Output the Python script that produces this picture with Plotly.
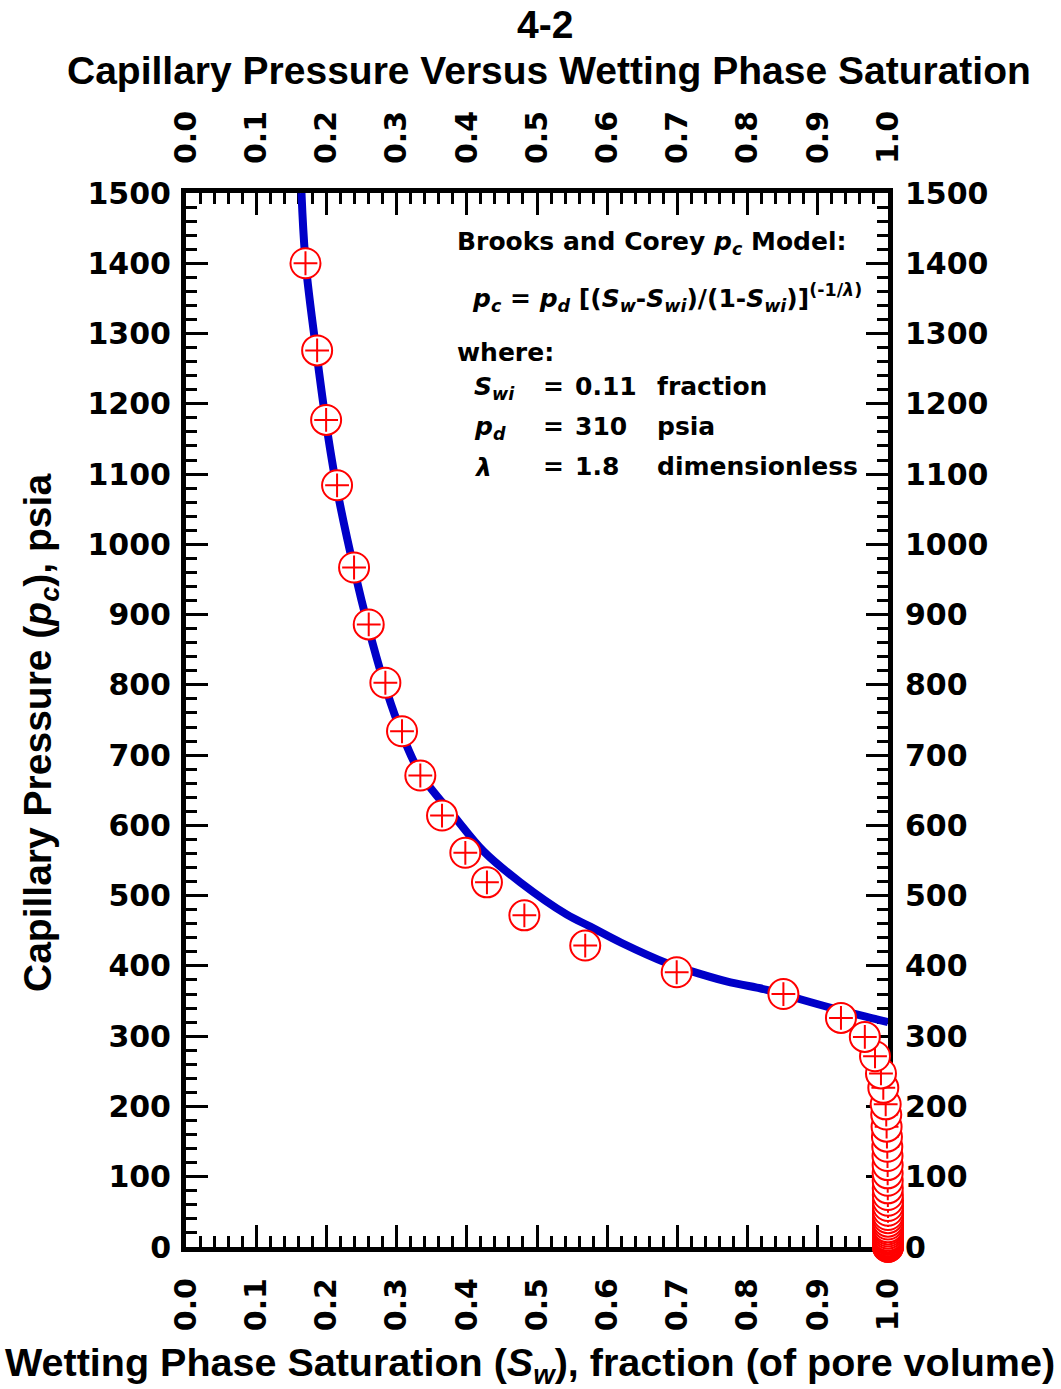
import plotly.graph_objects as go

# Measured capillary pressure points (ascending pc so the upper points sit on top)
meas_sw = [1.0, 1.0, 1.0, 1.0, 1.0, 1.0, 1.0, 1.0, 1.0, 1.0, 1.0, 1.0, 1.0, 1.0,
           1.0, 1.0, 1.0, 1.0, 1.0, 1.0, 1.0, 1.0, 1.0, 1.0, 1.0, 0.9998, 0.9997,
           0.9996, 0.9995, 0.9995, 0.9993, 0.999, 0.9985, 0.998, 0.9975, 0.9967,
           0.9933, 0.990, 0.9815, 0.967, 0.933, 0.851, 0.699, 0.5687, 0.482,
           0.4287, 0.3979, 0.3647, 0.3338, 0.3077, 0.284, 0.2603, 0.2394, 0.2152,
           0.1996, 0.1868, 0.1702]
meas_pc = [0, 0.5, 1, 1.5, 2, 3, 4, 5, 6.5, 8, 10, 12, 14, 16, 19, 22, 25, 28,
           32, 36, 41, 45.5, 51.6, 58.3, 65.8, 74, 83.5, 94.3, 104.8, 116.6,
           129.5, 142.7, 157, 171.2, 188.5, 203, 226.5, 247, 271.5, 299, 326, 360,
           391, 429, 472, 519, 561, 614, 671, 734, 803, 886, 967, 1084, 1177,
           1276, 1400]

# Brooks and Corey model curve
model_sw = [0.1645, 0.1705, 0.1868, 0.1996, 0.2152, 0.2391, 0.2603, 0.280, 0.302,
            0.333, 0.3836, 0.424, 0.4762, 0.5426, 0.5758, 0.620, 0.685, 0.7181,
            0.770, 0.8273, 0.856, 0.920, 0.984, 1.0]
model_pc = [1500, 1400, 1266, 1172, 1078, 966, 880, 810, 745, 675, 611, 563, 519,
            473, 456, 433, 404, 393, 378, 366, 358, 340, 324, 320]

x_ticks = [0.0, 0.1, 0.2, 0.3, 0.4, 0.5, 0.6, 0.7, 0.8, 0.9, 1.0]
x_labels = ["0.0", "0.1", "0.2", "0.3", "0.4", "0.5", "0.6", "0.7", "0.8", "0.9", "1.0"]
y_ticks = list(range(0, 1501, 100))
y_labels = [str(v) for v in y_ticks]

W, H = 1061, 1389
L, R, T, B = 186, 173, 193, 142
PW, PH = W - L - R, H - T - B


def px(xp):
    return (xp - L) / PW


def py(yp):
    return (H - B - yp) / PH


TICK_FONT = dict(family="DejaVu Sans", size=30, color="black", weight="bold")
TITLE_FONT = dict(family="Liberation Sans, Arial", size=39, color="black", weight="bold")
XTITLE_FONT = dict(family="Liberation Sans, Arial", size=39.5, color="black", weight="bold")
TEXT_FONT = dict(family="DejaVu Sans", size=25, color="black", weight="bold")

fig = go.Figure()

fig.add_trace(go.Scatter(
    x=model_sw, y=model_pc, mode="lines",
    line=dict(color="#0000c8", width=8, shape="spline", smoothing=1.0),
    hoverinfo="skip", showlegend=False,
))

# each measurement: a white-filled circle followed by a small cross,
# interleaved so that later circles hide the crosses beneath them
pt_x, pt_y, pt_sym, pt_size, pt_col = [], [], [], [], []
for sw, pc in zip(meas_sw, meas_pc):
    pt_x += [sw, sw]
    pt_y += [pc, pc]
    pt_sym += ["circle", "cross-thin-open"]
    pt_size += [30, 17]
    pt_col += ["white", "#ff0000"]

fig.add_trace(go.Scatter(
    x=pt_x, y=pt_y, mode="markers",
    marker=dict(symbol=pt_sym, size=pt_size, color=pt_col, opacity=1,
                line=dict(color="#ff0000", width=2)),
    cliponaxis=False, showlegend=False,
))

# carrier trace for the top / right axes
fig.add_trace(go.Scatter(
    x=[0, 1], y=[0, 1500], xaxis="x2", yaxis="y2", mode="markers",
    marker=dict(opacity=0), hoverinfo="skip", showlegend=False,
))

axis_common = dict(
    showline=True, linewidth=5, linecolor="black", showgrid=False, zeroline=False,
    ticks="inside", ticklen=22, tickwidth=3, tickcolor="black",
    tickfont=TICK_FONT, layer="below traces",
)


def minor(step):
    return dict(ticks="inside", ticklen=11, tickwidth=3, tickcolor="black",
                dtick=step, tick0=0, showgrid=False)


fig.update_layout(
    width=W, height=H, autosize=False,
    margin=dict(l=L, r=R, t=T, b=B),
    paper_bgcolor="white", plot_bgcolor="white",
    xaxis=dict(range=[0, 1], tickvals=x_ticks, ticktext=x_labels, tickangle=-90,
               minor=minor(0.02), ticklabelstandoff=14, **axis_common),
    xaxis2=dict(range=[0, 1], tickvals=x_ticks, ticktext=x_labels, tickangle=-90,
                overlaying="x", side="top", anchor="y2",
                minor=minor(0.02), ticklabelstandoff=18, **axis_common),
    yaxis=dict(range=[0, 1500], tickvals=y_ticks, ticktext=y_labels,
               minor=minor(20), ticklabelstandoff=4, **axis_common),
    yaxis2=dict(range=[0, 1500], tickvals=y_ticks, ticktext=y_labels,
                overlaying="y", side="right", anchor="x2",
                minor=minor(20), ticklabelstandoff=6, **axis_common),
)


def note(text, xp, yp, font, xanchor="left", yanchor="middle", angle=0):
    fig.add_annotation(text=text, x=px(xp), y=py(yp), xref="paper", yref="paper",
                       xanchor=xanchor, yanchor=yanchor, showarrow=False,
                       font=font, textangle=angle)


# titles
note("4-2", 545, 25, TITLE_FONT, xanchor="center")
note("Capillary Pressure Versus Wetting Phase Saturation", 549, 70, TITLE_FONT, xanchor="center")
note("Wetting Phase Saturation (<i>S</i><sub><i>w</i></sub>), fraction (of pore volume)",
     530, 1365, XTITLE_FONT, xanchor="center")
note("Capillary Pressure (<i>p</i><sub><i>c</i></sub>), psia", 40, 733, TITLE_FONT,
     xanchor="center", angle=-90)

# model description
note("Brooks and Corey <i>p</i><sub><i>c</i></sub> Model:", 455, 243, TEXT_FONT)
note("<i>p</i><sub><i>c</i></sub> = <i>p</i><sub><i>d</i></sub> "
     "[(<i>S</i><sub><i>w</i></sub>-<i>S</i><sub><i>wi</i></sub>)/(1-<i>S</i><sub><i>wi</i></sub>)]"
     "<sup>(-1/<i>λ</i>)</sup>", 470, 298, TEXT_FONT)
note("where:", 455, 352, TEXT_FONT)
rows = [("<i>S</i><sub><i>wi</i></sub>", "0.11", "fraction", 388),
        ("<i>p</i><sub><i>d</i></sub>", "310", "psia", 428),
        ("<i>λ</i>", "1.8", "dimensionless", 468)]
for sym, val, unit, yrow in rows:
    note(sym, 472, yrow, TEXT_FONT)
    note("=", 541, yrow - 2, TEXT_FONT)
    note(val, 573, yrow - 2, TEXT_FONT)
    note(unit, 655, yrow - 2, TEXT_FONT)

fig.write_html("out.html")
